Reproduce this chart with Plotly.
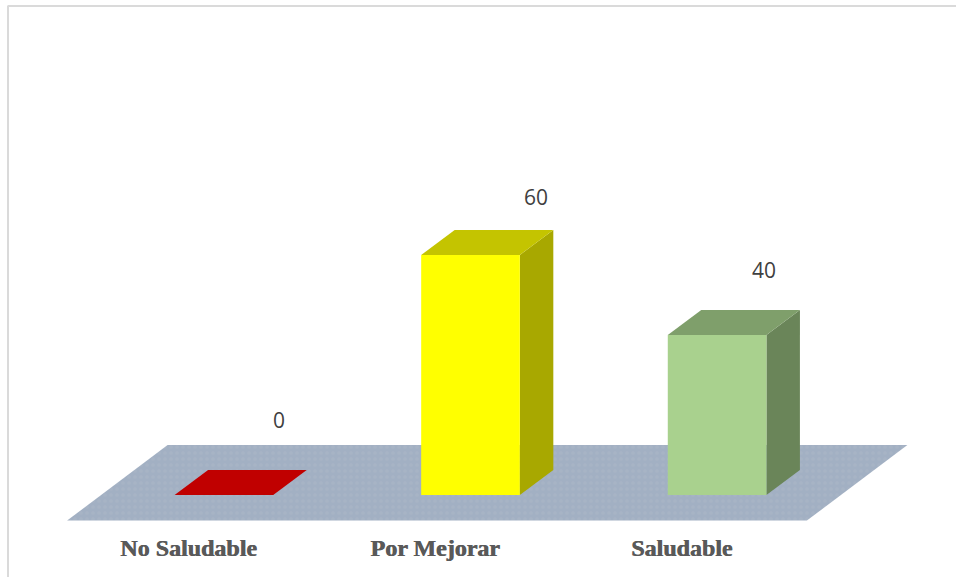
import plotly.graph_objects as go

# Chart data
categories = ["No Saludable", "Por Mejorar", "Saludable"]
values = [0, 60, 40]

# Box colours per category: front, top and side faces
front_colors = ["#C00000", "#FFFF00", "#A9D18E"]
top_colors = ["#C00000", "#C4C400", "#7F9F6B"]
side_colors = ["#9A0000", "#A8A800", "#6A8559"]

# Pixel nudges for the value labels
label_shift_x = [55, 65.5, 46.5]
label_shift_y = [75, 58, 65]

# Oblique projection, in axis units
BAR_WIDTH = 0.4
DEPTH_X = 33.5 / 246.6
DEPTH_Y = 6.25
STEP_PX = 246.6
CENTER_PX = 223.9
PX_PER_UNIT = 4.0

WIDTH, HEIGHT, BOTTOM = 956, 577, 52
PLOT_H = HEIGHT - BOTTOM
BASE_PX = 495


def polygon(xs, ys, color):
    return go.Scatter(
        x=xs + xs[:1], y=ys + ys[:1], mode="lines", fill="toself",
        fillcolor=color, line=dict(width=0), hoverinfo="skip", showlegend=False,
    )


fig = go.Figure()

# Textured floor under the bars
n = len(categories)
fl, fr = -0.5 - DEPTH_X, n - 0.5 - DEPTH_X
floor = polygon(
    [fl, fr, fr + 3 * DEPTH_X, fl + 3 * DEPTH_X],
    [-DEPTH_Y - 0.15, -DEPTH_Y - 0.15, 2 * DEPTH_Y, 2 * DEPTH_Y],
    "#A2B0C3",
)
floor.update(fillpattern=dict(shape=".", bgcolor="#A2B0C3", fgcolor="#AEBAC9",
                              fgopacity=0.4, size=6, solidity=0.3))
fig.add_trace(floor)

# Three visible faces of each bar
for i, v in enumerate(values):
    l, r = i - BAR_WIDTH / 2, i + BAR_WIDTH / 2
    if v > 0:
        fig.add_trace(polygon([r, r + DEPTH_X, r + DEPTH_X, r],
                              [0, DEPTH_Y, v + DEPTH_Y, v], side_colors[i]))
        fig.add_trace(polygon([l, r, r, l], [0, 0, v, v], front_colors[i]))
    fig.add_trace(polygon([l, r, r + DEPTH_X, l + DEPTH_X],
                          [v, v, v + DEPTH_Y, v + DEPTH_Y], top_colors[i]))
    fig.add_annotation(
        x=i, y=v, text=str(v), showarrow=False, xanchor="center", yanchor="middle",
        xshift=label_shift_x[i], yshift=label_shift_y[i],
        font=dict(family="Open Sans", size=21, color="#404040"),
    )

fig.update_layout(
    width=WIDTH, height=HEIGHT, margin=dict(l=0, r=0, t=0, b=BOTTOM),
    paper_bgcolor="white", plot_bgcolor="white", showlegend=False,
    xaxis=dict(
        range=[-CENTER_PX / STEP_PX, (WIDTH - CENTER_PX) / STEP_PX],
        tickmode="array",
        tickvals=[i - DEPTH_X - 0.008 for i in range(n)],
        ticktext=categories,
        tickfont=dict(family="Liberation Serif", size=24, color="#595959", weight="bold",
                      shadow="0.7px 0 0 #595959"),
        ticks="", showgrid=False, zeroline=False, showline=False, ticklabelstandoff=6,
    ),
    yaxis=dict(
        range=[(BASE_PX - PLOT_H) / PX_PER_UNIT, BASE_PX / PX_PER_UNIT],
        visible=False, showgrid=False, zeroline=False,
    ),
    shapes=[
        dict(type="line", xref="paper", yref="paper", x0=7.5 / WIDTH, x1=1,
             y0=1 - 6 / PLOT_H, y1=1 - 6 / PLOT_H, line=dict(color="#DADADA", width=2)),
        dict(type="line", xref="paper", yref="paper", x0=8 / WIDTH, x1=8 / WIDTH,
             y0=1 - 6 / PLOT_H, y1=-BOTTOM / PLOT_H, line=dict(color="#DADADA", width=2)),
    ],
)

fig.write_html("out.html", config=dict(displayModeBar=False))
